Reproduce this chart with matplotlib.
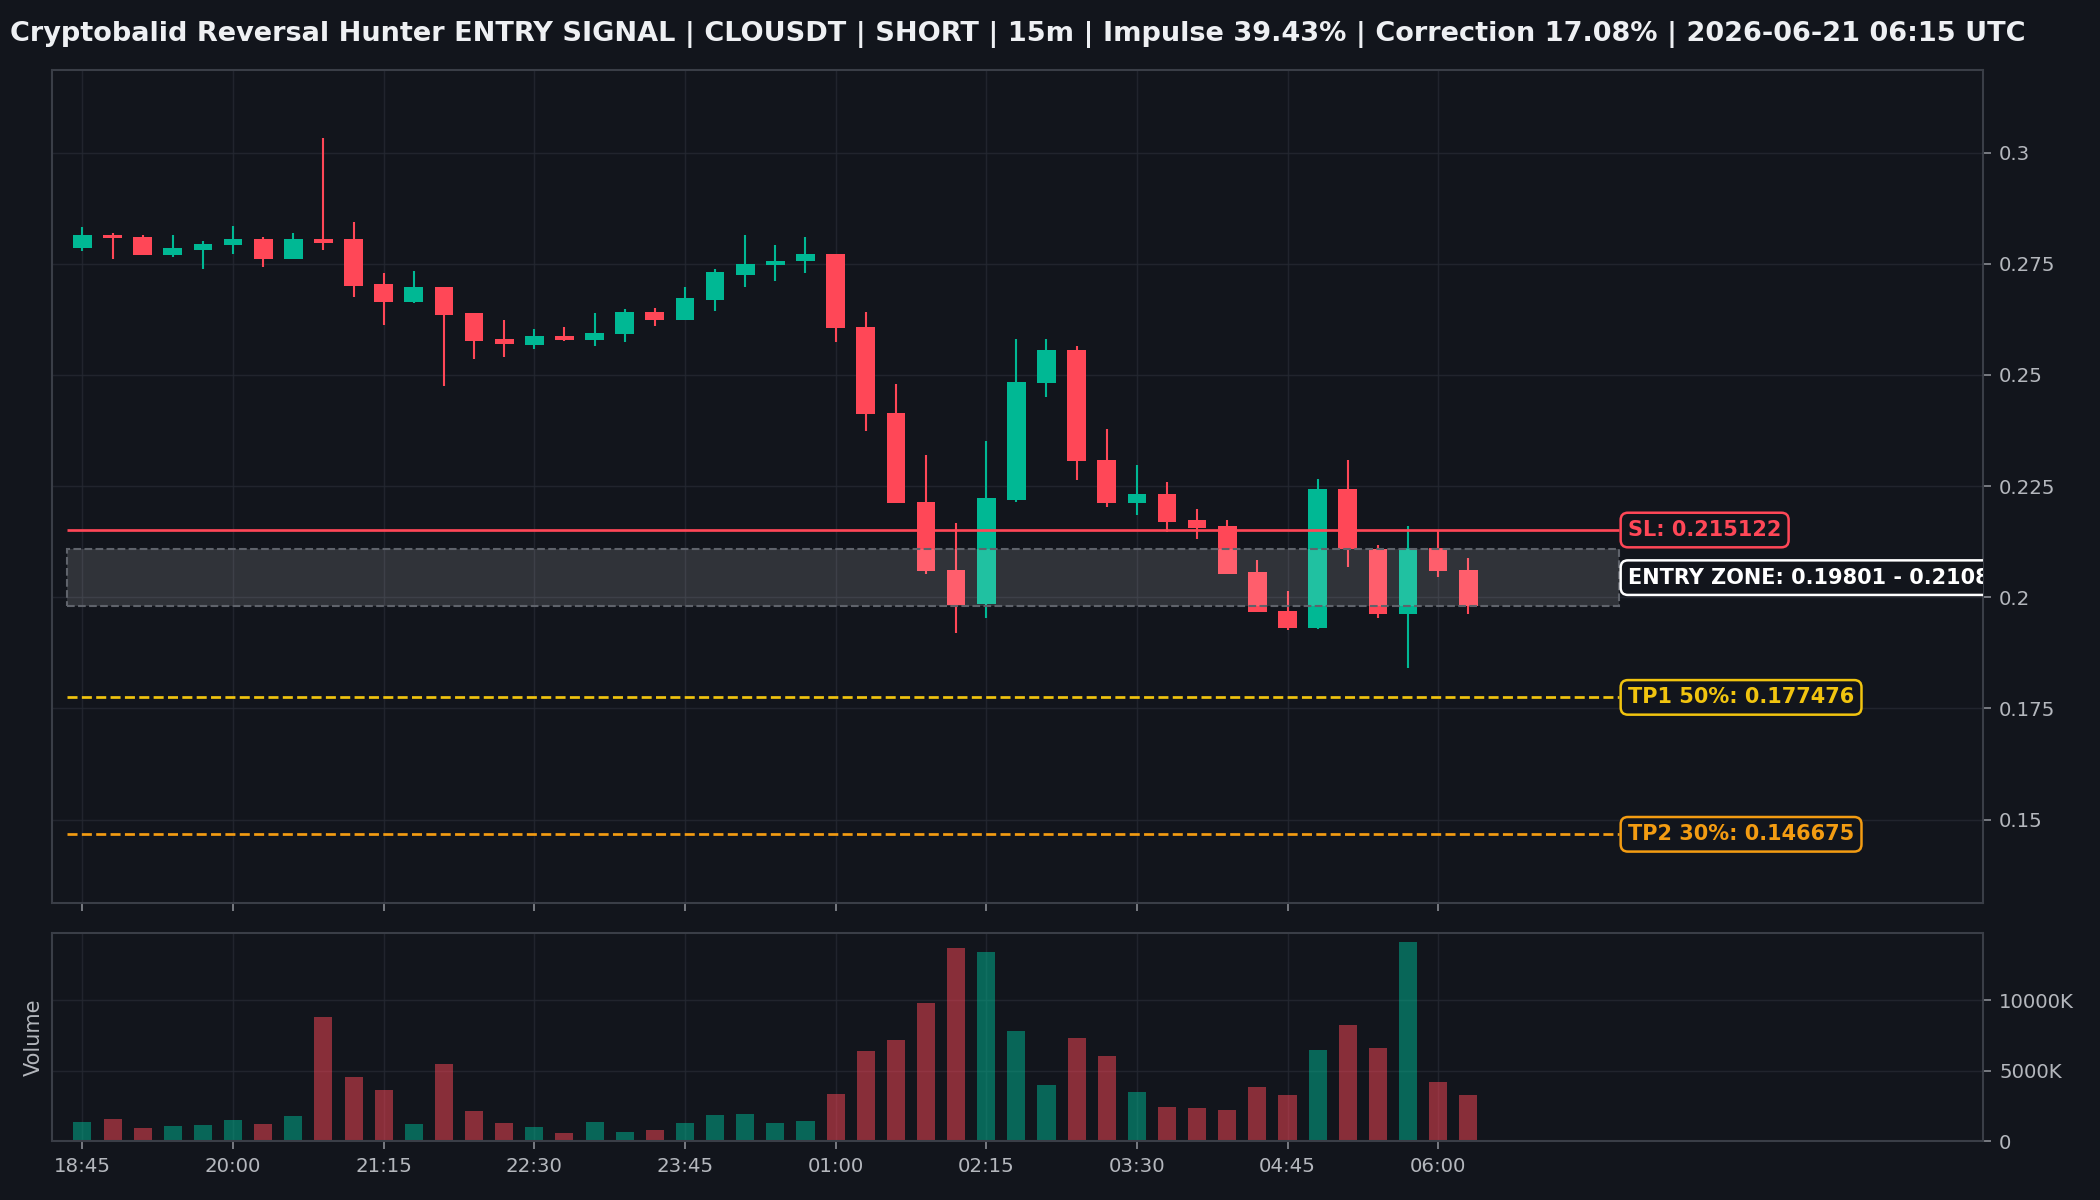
import numpy as np
import matplotlib
matplotlib.use("Agg")
import matplotlib.pyplot as plt
from matplotlib.patches import Rectangle
from matplotlib.ticker import FuncFormatter

# OHLC, 15m candles from 18:45
opens = [0.2785, 0.2816, 0.2810, 0.2771, 0.2782, 0.2792, 0.2805, 0.2762, 0.2807, 0.2805,
         0.2705, 0.2665, 0.2698, 0.2640, 0.2581, 0.2568, 0.2588, 0.2579, 0.2593, 0.2642,
         0.2623, 0.2669, 0.2726, 0.2747, 0.2756, 0.2773, 0.2608, 0.2414, 0.2214, 0.2061,
         0.1985, 0.2219, 0.2481, 0.2557, 0.2309, 0.2213, 0.2232, 0.2174, 0.2160, 0.2057,
         0.1969, 0.1931, 0.2244, 0.2109, 0.1963, 0.2111, 0.2062]
highs = [0.2832, 0.2820, 0.2814, 0.2816, 0.2802, 0.2835, 0.2811, 0.2820, 0.3034, 0.2844,
         0.2729, 0.2735, 0.2698, 0.2640, 0.2624, 0.2604, 0.2608, 0.2640, 0.2648, 0.2651,
         0.2698, 0.2739, 0.2816, 0.2793, 0.2811, 0.2773, 0.2642, 0.2480, 0.2321, 0.2167,
         0.2352, 0.2580, 0.2580, 0.2566, 0.2379, 0.2297, 0.2260, 0.2199, 0.2174, 0.2084,
         0.2014, 0.2267, 0.2309, 0.2118, 0.2161, 0.2150, 0.2089]
lows = [0.2778, 0.2762, 0.2771, 0.2765, 0.2739, 0.2773, 0.2744, 0.2762, 0.2782, 0.2676,
        0.2613, 0.2661, 0.2476, 0.2535, 0.2541, 0.2559, 0.2577, 0.2566, 0.2575, 0.2611,
        0.2623, 0.2645, 0.2697, 0.2711, 0.2729, 0.2575, 0.2373, 0.2212, 0.2053, 0.1919,
        0.1954, 0.2214, 0.2450, 0.2264, 0.2203, 0.2184, 0.2146, 0.2132, 0.2053, 0.1967,
        0.1926, 0.1929, 0.2069, 0.1953, 0.1840, 0.2045, 0.1963]
closes = [0.2816, 0.2808, 0.2771, 0.2786, 0.2795, 0.2805, 0.2762, 0.2807, 0.2798, 0.2701,
          0.2665, 0.2698, 0.2636, 0.2577, 0.2569, 0.2588, 0.2579, 0.2595, 0.2642, 0.2623,
          0.2674, 0.2732, 0.2750, 0.2757, 0.2773, 0.2605, 0.2412, 0.2212, 0.2060, 0.1983,
          0.2224, 0.2485, 0.2557, 0.2306, 0.2213, 0.2233, 0.2170, 0.2156, 0.2053, 0.1967,
          0.1930, 0.2244, 0.2108, 0.1963, 0.2111, 0.2058, 0.1980]
volumes = [1381e3, 1571e3, 929e3, 1071e3, 1143e3, 1500e3, 1214e3, 1786e3, 8857e3, 4571e3,
           3643e3, 1214e3, 5500e3, 2143e3, 1310e3, 1000e3, 571e3, 1381e3, 643e3, 786e3,
           1310e3, 1857e3, 1929e3, 1310e3, 1429e3, 3357e3, 6429e3, 7214e3, 9786e3, 13714e3,
           13429e3, 7857e3, 4000e3, 7357e3, 6071e3, 3500e3, 2429e3, 2357e3, 2214e3, 3857e3,
           3286e3, 6500e3, 8286e3, 6643e3, 14143e3, 4214e3, 3286e3]

tick_pos = [0, 5, 10, 15, 20, 25, 30, 35, 40, 45]
tick_labels = ["18:45", "20:00", "21:15", "22:30", "23:45", "01:00", "02:15", "03:30", "04:45", "06:00"]

sl = 0.215122
entry_lo = 0.19801
entry_hi = 0.21081
tp1 = 0.177476
tp2 = 0.146675

title = ("Cryptobalid Reversal Hunter ENTRY SIGNAL | CLOUSDT | SHORT | 15m | "
         "Impulse 39.43% | Correction 17.08% | 2026-06-21 06:15 UTC")

bg = "#12151c"
green = "#00b894"
red = "#ff4757"
tp1_col = "#f1c40f"
tp2_col = "#f39c12"
grid_col = "#252932"
spine_col = "#3a3e47"
text_col = "#b4b7bd"

fig = plt.figure(figsize=(14, 8), dpi=150, facecolor=bg)
ax = fig.add_axes([0.0249, 0.2478, 0.9196, 0.6942], facecolor=bg)
axv = fig.add_axes([0.0249, 0.0491, 0.9196, 0.1730], facecolor=bg, sharex=ax)

o = np.array(opens)
h = np.array(highs)
l = np.array(lows)
c = np.array(closes)
x = np.arange(len(o))
up = c >= o
cols = np.where(up, green, red)

# wicks and bodies
ax.vlines(x, l, h, colors=cols, linewidth=1.0, zorder=2)
body_lo = np.minimum(o, c)
body_h = np.maximum(np.abs(c - o), 0.0004)
ax.bar(x, body_h, bottom=body_lo, width=0.62, color=cols, linewidth=0, zorder=2)

line_x0, line_x1 = -0.5, 51.0
ax.add_patch(Rectangle((line_x0, entry_lo), line_x1 - line_x0, entry_hi - entry_lo,
                       facecolor=(1, 1, 1, 0.13), edgecolor="#5f636b",
                       linestyle="--", linewidth=1.0, zorder=3))
ax.hlines(sl, line_x0, line_x1, colors=red, linewidth=1.3, zorder=4)
ax.hlines(tp1, line_x0, line_x1, colors=tp1_col, linewidth=1.3, linestyles="--", zorder=4)
ax.hlines(tp2, line_x0, line_x1, colors=tp2_col, linewidth=1.3, linestyles="--", zorder=4)

lab_x = 51.3
box = dict(boxstyle="round,pad=0.35", facecolor=bg, linewidth=1.2)
ax.text(lab_x, sl, f"SL: {sl}", color=red, fontsize=10, fontweight="bold", va="center",
        bbox=dict(box, edgecolor=red), zorder=5)
ax.text(lab_x, (entry_lo + entry_hi) / 2, f"ENTRY ZONE: {entry_lo} - {entry_hi}", color="white",
        fontsize=10, fontweight="bold", va="center", bbox=dict(box, edgecolor="white"),
        zorder=5, clip_on=True)
ax.text(lab_x, tp1, f"TP1 50%: {tp1}", color=tp1_col, fontsize=10, fontweight="bold", va="center",
        bbox=dict(box, edgecolor=tp1_col), zorder=5)
ax.text(lab_x, tp2, f"TP2 30%: {tp2}", color=tp2_col, fontsize=10, fontweight="bold", va="center",
        bbox=dict(box, edgecolor=tp2_col), zorder=5)

ax.set_xlim(-1.0, 63.1)
ax.set_ylim(0.1313, 0.3187)
ax.set_yticks([0.15, 0.175, 0.2, 0.225, 0.25, 0.275, 0.3])
ax.yaxis.set_major_formatter(FuncFormatter(lambda v, p: f"{v:g}"))

# volume
vcols = np.where(up, green, red)
axv.bar(x, volumes, width=0.6, color=vcols, alpha=0.5, linewidth=0, zorder=2)
axv.set_ylim(0, 14.76e6)
axv.set_yticks([0, 5e6, 10e6])
axv.yaxis.set_major_formatter(FuncFormatter(lambda v, p: "0" if v == 0 else f"{v / 1000:.0f}K"))
axv.set_ylabel("Volume", color=text_col, fontsize=10)
axv.set_xticks(tick_pos)
axv.set_xticklabels(tick_labels)

for a in (ax, axv):
    a.yaxis.tick_right()
    a.grid(True, color=grid_col, linewidth=0.7, alpha=0.8)
    a.tick_params(colors=text_col, labelsize=9.5, length=4, width=0.8)
    a.tick_params(axis="both", color="#8a8d93")
    for s in a.spines.values():
        s.set_color(spine_col)
        s.set_linewidth(1.0)
plt.setp(ax.get_xticklabels(), visible=False)

fig.text(0.005, 0.971, title, color="#eef0f3", fontsize=13, fontweight="bold",
         ha="left", va="center")

fig.savefig("out.png", dpi=150, facecolor=bg)
